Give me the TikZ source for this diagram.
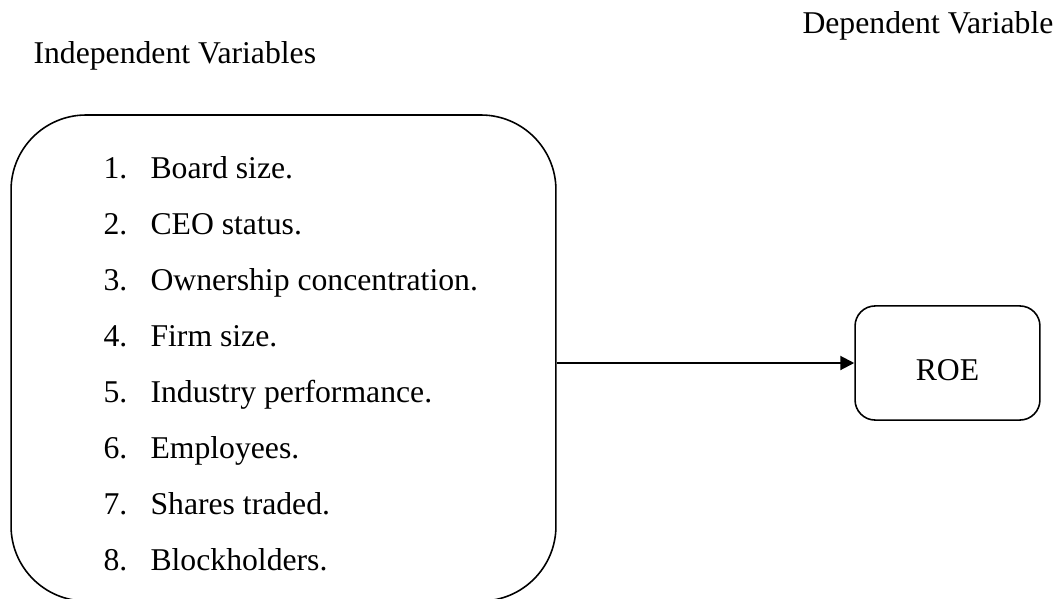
\documentclass[tikz,border=0pt]{standalone}
\usepackage{fontspec}
\setmainfont{Liberation Serif}
\usetikzlibrary{positioning,arrows.meta}

\newcommand{\itemnum}[1]{\makebox[17.8pt][l]{#1}}

\begin{document}
\begin{tikzpicture}
[
x=0.3786pt, y=-0.3786pt,
text-a/.style={black, inner sep=0pt, font=\fontsize{12}{14}\selectfont},
item-a/.style={text-a, text height=9pt, text depth=3pt},
box-a/.style={draw, line width=0.6pt, rounded corners=28.4pt, minimum width=206.3pt, minimum height=184.0pt},
box-b/.style={text-a, draw, line width=0.6pt, rounded corners=7.6pt, minimum width=70pt, minimum height=43.2pt, text height=13.3pt, text depth=0pt}
]
\useasboundingbox (0,0) rectangle (1057,598);
\node (indep)   [text-a, anchor=base west] at (33,63)   {Independent Variables};
\node (dep)     [text-a, anchor=base west] at (802,33)  {Dependent Variable};
\node (vars)    [box-a]                    at (283.5,358) {};
\node (roe)     [box-b]                    at (947.5,363) {ROE};
\node (item-1)  [item-a, anchor=base west] at (103,178) {\itemnum{1.}Board size.};
\node (item-2)  [item-a, below right = 8.82pt and 0pt of item-1.south west] {\itemnum{2.}CEO status.};
\node (item-3)  [item-a, below right = 8.82pt and 0pt of item-2.south west] {\itemnum{3.}Ownership concentration.};
\node (item-4)  [item-a, below right = 8.82pt and 0pt of item-3.south west] {\itemnum{4.}Firm size.};
\node (item-5)  [item-a, below right = 8.82pt and 0pt of item-4.south west] {\itemnum{5.}Industry performance.};
\node (item-6)  [item-a, below right = 8.82pt and 0pt of item-5.south west] {\itemnum{6.}Employees.};
\node (item-7)  [item-a, below right = 8.82pt and 0pt of item-6.south west] {\itemnum{7.}Shares traded.};
\node (item-8)  [item-a, below right = 8.82pt and 0pt of item-7.south west] {\itemnum{8.}Blockholders.};
\draw [line width=0.75pt, -{Triangle[length=5.3pt, width=5.3pt]}] (vars.east |- roe.west) -- (roe.west);
\end{tikzpicture}
\end{document}
